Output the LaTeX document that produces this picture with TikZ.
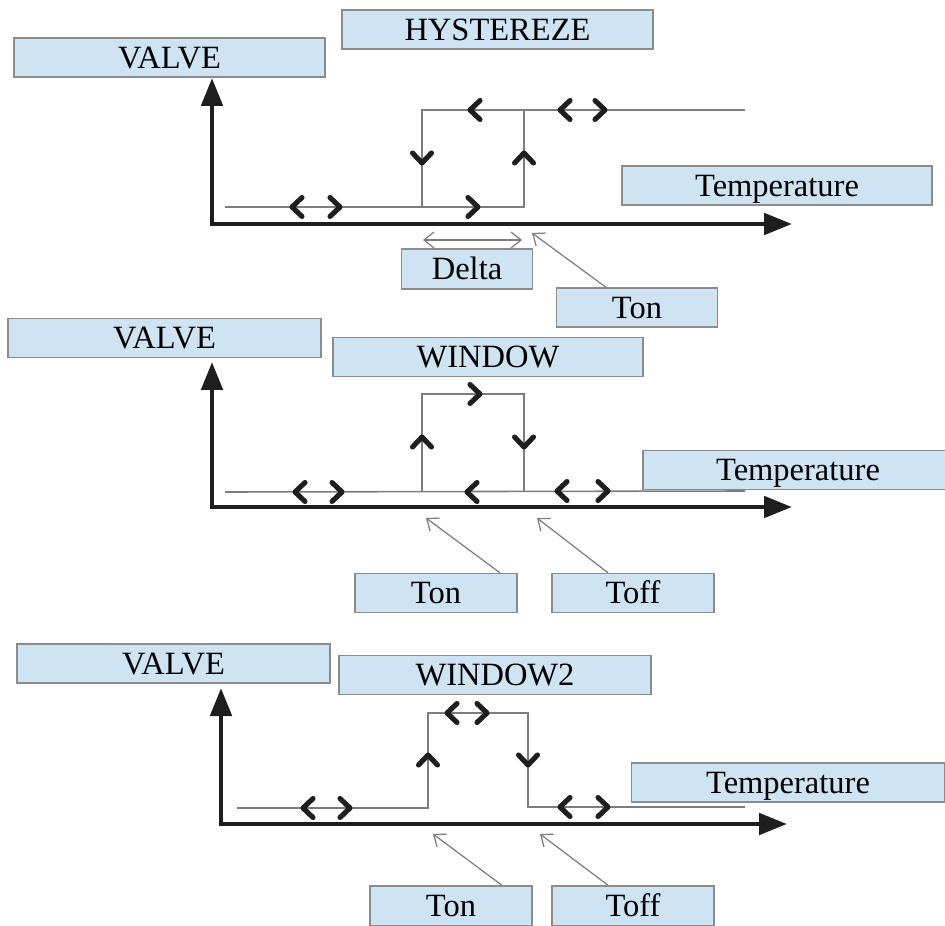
\documentclass[tikz,border=0pt]{standalone}
\usepackage{fontspec}
\setmainfont{Liberation Serif}
\usetikzlibrary{arrows.meta}

\definecolor{boxfill}{RGB}{207,228,242}
\definecolor{boxline}{RGB}{140,140,140}
\definecolor{curvegray}{RGB}{125,125,125}
\definecolor{axisblack}{RGB}{30,30,30}

\tikzset{
  labelbox/.style={draw=boxline, fill=boxfill, line width=0.8pt, minimum height=0.78cm,
    inner sep=0pt, text height=12pt, text depth=0pt, font=\fontsize{18.5}{20}\selectfont},
  axis/.style={line width=2.8pt, color=axisblack,
    {Triangle[length=0.56cm,width=0.42cm]}-{Triangle[length=0.56cm,width=0.42cm]}},
  curve/.style={curvegray, line width=0.9pt},
  chevron/.style={axisblack, line width=2.9pt, line cap=round, line join=round},
  pointer/.style={curvegray, line width=0.7pt, -{Straight Barb[length=0.2cm,width=0.32cm]}},
  chevR/.pic={\draw[chevron] (-5,-9.5) -- (5,0) -- (-5,9.5);},
  chevL/.pic={\draw[chevron] (5,-9.5) -- (-5,0) -- (5,9.5);},
  chevU/.pic={\draw[chevron] (-9.5,5) -- (0,-5) -- (9.5,5);},
  chevD/.pic={\draw[chevron] (-9.5,-5) -- (0,5) -- (9.5,-5);}
}

\begin{document}
\begin{tikzpicture}[x=0.02cm, y=-0.02cm]
    \useasboundingbox (0,0) rectangle (945,925);

    % hystereze
    \draw[curve] (225,207) -- (422,207) -- (524,207) -- (524,110) -- (745,110);
    \draw[curve] (422,207) -- (422,110) -- (524,110);
    \coordinate (o1) at (212,224);
    \coordinate (ytip1) at (212,78);
    \coordinate (xtip1) at (792,224);
    \draw[axis] (ytip1) -- (o1) -- (xtip1);
    \pic at (297,207) {chevL};
    \pic at (335,207) {chevR};
    \pic at (473,207) {chevR};
    \pic at (475,110) {chevL};
    \pic at (565,110) {chevL};
    \pic at (600,110) {chevR};
    \pic at (422,158) {chevD};
    \pic at (524,158) {chevU};
    \node[labelbox, minimum width=6.22cm] (valve1) at (169.5,57.5) {VALVE};
    \node[labelbox, minimum width=6.22cm] (hyst) at (497.5,29.5) {HYSTEREZE};
    \node[labelbox, minimum width=6.2cm] (temp1) at (777,185.5) {Temperature};
    \node[labelbox, minimum width=2.62cm, minimum height=0.8cm] (delta) at (467,269) {Delta};
    \node[labelbox, minimum width=3.22cm] (ton1) at (637,307.5) {Ton};
    \coordinate (dl) at (423,240);
    \coordinate (dr) at (522,240);
    \draw[pointer, {Straight Barb[length=0.2cm,width=0.32cm]}-{Straight Barb[length=0.2cm,width=0.32cm]}] (dl) -- (dr);
    \coordinate (ton1pt) at (532,233);
    \draw[pointer] ([xshift=-0.62cm]ton1.north) -- (ton1pt);

    % window
    \draw[curve] (225,492) -- (745,491);
    \draw[curve] (422,492) -- (422,394) -- (524,394) -- (524,492);
    \coordinate (o2) at (212,507);
    \coordinate (ytip2) at (212,362);
    \coordinate (xtip2) at (792,507);
    \draw[axis] (ytip2) -- (o2) -- (xtip2);
    \pic at (300,492) {chevL};
    \pic at (337,492) {chevR};
    \pic at (472,492) {chevL};
    \pic at (562,491) {chevL};
    \pic at (603,491) {chevR};
    \pic at (475,394) {chevR};
    \pic at (422,442) {chevU};
    \pic at (524,442) {chevD};
    \node[labelbox, minimum width=6.26cm] (valve2) at (164.5,338) {VALVE};
    \node[labelbox, minimum width=6.2cm] (window) at (488,357) {WINDOW};
    \node[labelbox, minimum width=6.2cm] (temp2) at (798,470) {Temperature};
    \node[labelbox, minimum width=3.24cm] (ton2) at (436,593) {Ton};
    \node[labelbox, minimum width=3.24cm] (toff2) at (633,593) {Toff};
    \coordinate (ton2pt) at (426,518);
    \coordinate (toff2pt) at (537,518);
    \draw[pointer] ([xshift=1.28cm]ton2.north) -- (ton2pt);
    \draw[pointer] ([xshift=-0.5cm]toff2.north) -- (toff2pt);

    % window2
    \draw[curve] (237,808) -- (428,808) -- (428,713) -- (528,713) -- (528,807) -- (745,807);
    \coordinate (o3) at (221,824);
    \coordinate (ytip3) at (221,688);
    \coordinate (xtip3) at (787,824);
    \draw[axis] (ytip3) -- (o3) -- (xtip3);
    \pic at (308,808) {chevL};
    \pic at (345,808) {chevR};
    \pic at (452,713) {chevL};
    \pic at (482,713) {chevR};
    \pic at (428,760) {chevU};
    \pic at (528,760) {chevD};
    \pic at (565,807) {chevL};
    \pic at (603,807) {chevR};
    \node[labelbox, minimum width=6.26cm] (valve3) at (173.5,663.5) {VALVE};
    \node[labelbox, minimum width=6.24cm] (window2) at (495,675) {WINDOW2};
    \node[labelbox, minimum width=6.26cm] (temp3) at (788,782.5) {Temperature};
    \node[labelbox, minimum width=3.24cm, minimum height=0.8cm] (ton3) at (451,906) {Ton};
    \node[labelbox, minimum width=3.24cm, minimum height=0.8cm] (toff3) at (633,906) {Toff};
    \coordinate (ton3pt) at (433,834);
    \coordinate (toff3pt) at (540,834);
    \draw[pointer] ([xshift=1.02cm]ton3.north) -- (ton3pt);
    \draw[pointer] ([xshift=-0.5cm]toff3.north) -- (toff3pt);
\end{tikzpicture}
\end{document}
